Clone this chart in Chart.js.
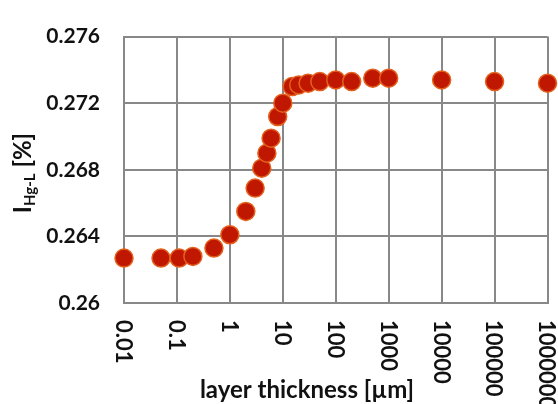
<!DOCTYPE html>
<html>
<head>
<meta charset="utf-8">
<script src="https://cdn.jsdelivr.net/npm/chart.js@4/dist/chart.umd.min.js"></script>
<style>
  html, body { margin: 0; padding: 0; background: #fff; }
  #wrap { width: 558px; height: 404px; position: relative; }
</style>
</head>
<body>
<div id="wrap"><canvas id="chart"></canvas></div>
<script>
// layer thickness [µm] vs I_Hg-L [%]
const thickness = [0.01, 0.05, 0.11, 0.2, 0.5, 1, 2, 3, 4, 5, 6, 8, 10, 15, 20, 30, 50, 100, 200, 500, 1000, 10000, 100000, 1000000];
const intensity = [0.2627, 0.2627, 0.2627, 0.2628, 0.2633, 0.2641, 0.2655, 0.2669, 0.2681, 0.2690, 0.2699, 0.2712, 0.2720, 0.2730, 0.2731, 0.2732, 0.2733, 0.2734, 0.2733, 0.2735, 0.2735, 0.2734, 0.2733, 0.2732];

const xTicks = [0.01, 0.1, 1, 10, 100, 1000, 10000, 100000, 1000000];
const xTickLabels = ['0.01', '0.1', '1', '10', '100', '1000', '10000', '100000', '1000000'];
const yTicks = [0.26, 0.264, 0.268, 0.272, 0.276];
const yTickLabels = ['0.26', '0.264', '0.268', '0.272', '0.276'];

const FONT = 'Lato, "Open Sans", sans-serif';
const TEXT = '#111';
const GRID = '#888';

// x labels run top-to-bottom and the axis titles need a subscript,
// so they are drawn here instead of by the scales
const axisText = {
  id: 'axisText',
  afterDraw(chart) {
    const ctx = chart.ctx;
    const xs = chart.scales.x;
    const area = chart.chartArea;
    ctx.save();
    ctx.fillStyle = TEXT;

    ctx.font = 'bold 22px ' + FONT;
    ctx.textAlign = 'left';
    ctx.textBaseline = 'middle';
    xTicks.forEach((v, i) => {
      const px = xs.getPixelForValue(v);
      ctx.save();
      ctx.translate(px, area.bottom + 17);
      ctx.rotate(Math.PI / 2);
      ctx.fillText(xTickLabels[i], 0, 1);
      ctx.restore();
    });

    ctx.textAlign = 'center';
    ctx.textBaseline = 'alphabetic';
    ctx.font = 'bold 24px ' + FONT;
    ctx.fillText('layer thickness [µm]', 307, 398);

    // y title: I with subscript Hg-L, then [%]
    const parts = [
      { t: 'I', f: 'bold 24px ' + FONT, dy: 0 },
      { t: 'Hg-L', f: 'bold 15px ' + FONT, dy: 4 },
      { t: ' [%]', f: 'bold 24px ' + FONT, dy: 0 },
    ];
    let total = 0;
    parts.forEach(p => { ctx.font = p.f; p.w = ctx.measureText(p.t).width; total += p.w; });
    ctx.translate(31, 173);
    ctx.rotate(-Math.PI / 2);
    ctx.textAlign = 'left';
    let pos = -total / 2;
    parts.forEach(p => {
      ctx.font = p.f;
      ctx.fillText(p.t, pos, p.dy);
      pos += p.w;
    });
    ctx.restore();
  },
};

new Chart(document.getElementById('chart'), {
  type: 'scatter',
  data: {
    datasets: [{
      data: thickness.map((x, i) => ({ x: x, y: intensity[i] })),
      backgroundColor: '#c01800',
      borderColor: '#e4601c',
      borderWidth: 1.5,
      pointRadius: 9,
      pointHoverRadius: 9,
      clip: false,
    }],
  },
  options: {
    responsive: true,
    maintainAspectRatio: false,
    animation: false,
    layout: { padding: { left: 0, right: 9, top: 29, bottom: 0 } },
    plugins: { legend: { display: false }, tooltip: { enabled: false } },
    scales: {
      x: {
        type: 'logarithmic',
        min: 0.01,
        max: 1000000,
        afterBuildTicks: (s) => { s.ticks = xTicks.map(v => ({ value: v })); },
        afterFit: (s) => { s.height = 101; },
        ticks: { display: false },
        grid: { color: GRID, lineWidth: 2, drawTicks: false },
        border: { color: GRID, width: 2 },
      },
      y: {
        min: 0.26,
        max: 0.276,
        afterBuildTicks: (s) => { s.ticks = yTicks.map(v => ({ value: v })); },
        afterFit: (s) => { s.width = 124; },
        ticks: {
          padding: 24,
          color: TEXT,
          font: { family: FONT, size: 21, weight: 'bold' },
          callback: (v) => yTickLabels[yTicks.findIndex(t => Math.abs(t - v) < 1e-9)],
        },
        grid: { color: GRID, lineWidth: 2, drawTicks: false },
        border: { color: GRID, width: 2 },
      },
    },
  },
  plugins: [axisText],
});
</script>
</body>
</html>
